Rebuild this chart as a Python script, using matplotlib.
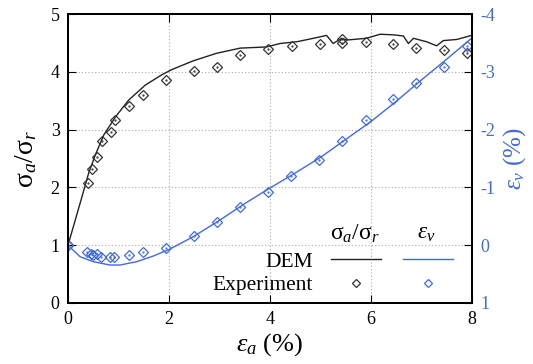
import matplotlib
matplotlib.use('Agg')
import matplotlib.pyplot as plt
from matplotlib.lines import Line2D

# ─── Data ────────────────────────────────────────────────────────────────────
# DEM stress ratio curve
DEM_X      = [0.0, 0.145, 0.277, 0.41, 0.54, 0.71, 0.94, 1.2, 1.53, 1.86, 2.06,
              2.48, 2.94, 3.41, 3.93, 4.2, 4.53, 4.86, 5.12, 5.25, 5.42, 5.52,
              5.91, 6.18, 6.44, 6.64, 6.74, 6.84, 7.1, 7.3, 7.43, 7.7, 7.99]
DEM_RATIO  = [1.0, 1.44, 1.84, 2.25, 2.56, 2.91, 3.22, 3.51, 3.77, 3.95, 4.04,
              4.19, 4.32, 4.41, 4.43, 4.49, 4.52, 4.58, 4.63, 4.49, 4.58, 4.55,
              4.58, 4.65, 4.64, 4.62, 4.49, 4.58, 4.52, 4.45, 4.54, 4.56, 4.63]

# DEM volumetric strain curve
DEMV_X     = [0.0, 0.24, 0.5, 0.83, 1.03, 1.36, 1.69, 2.02, 2.48, 3.0, 3.5,
              4.0, 4.5, 5.0, 5.5, 6.0, 6.5, 7.0, 7.5, 7.99]
DEM_EV     = [0.0, 0.2, 0.285, 0.343, 0.343, 0.285, 0.187, 0.066, -0.147,
              -0.43, -0.72, -0.99, -1.25, -1.52, -1.83, -2.14, -2.49, -2.86,
              -3.22, -3.58]

# Experiment: stress ratio
EXP_X      = [0.0, 0.40, 0.47, 0.57, 0.67, 0.85, 0.94, 1.21, 1.49, 1.94, 2.49,
              2.95, 3.41, 3.96, 4.43, 4.98, 5.43, 5.43, 5.90, 6.44, 6.89, 7.45,
              7.91]
EXP_RATIO  = [1.0, 2.08, 2.31, 2.52, 2.80, 2.96, 3.16, 3.40, 3.60, 3.85, 4.01,
              4.08, 4.29, 4.40, 4.45, 4.48, 4.57, 4.50, 4.52, 4.48, 4.41, 4.37,
              4.32]

# Experiment: volumetric strain
EXPV_X     = [0.0, 0.38, 0.45, 0.50, 0.57, 0.66, 0.83, 0.91, 1.21, 1.49, 1.94,
              2.49, 2.95, 3.41, 3.96, 4.42, 4.97, 5.43, 5.90, 6.44, 6.90, 7.45,
              7.91]
EXP_EV     = [0.0, 0.118, 0.152, 0.170, 0.152, 0.209, 0.199, 0.199, 0.164,
              0.118, 0.043, -0.154, -0.396, -0.666, -0.915, -1.197, -1.479,
              -1.798, -2.161, -2.524, -2.806, -3.088, -3.446]

X_TICKS  = [0, 2, 4, 6, 8]
Y_TICKS  = [0, 1, 2, 3, 4, 5]
EV_TICKS = [1, 0, -1, -2, -3, -4]

BLUE = '#4169e1'

plt.rcParams.update({
    "font.family":       "Liberation Serif",
    "mathtext.fontset":  "custom",
    "mathtext.rm":       "Liberation Serif",
    "mathtext.it":       "Liberation Serif:italic",
    "axes.unicode_minus": False,
    "font.size":         12.5,
    "xtick.direction":   "in",
    "ytick.direction":   "in",
    "xtick.major.size":  6,
    "ytick.major.size":  6,
    "axes.linewidth":    1.4,
})

fig, ax = plt.subplots(figsize=(5.33, 3.64), dpi=100)
fig.subplots_adjust(left=0.1276, right=0.8856, top=0.9615, bottom=0.1676)
ax2 = ax.twinx()

# stress ratio (left axis)
ax.plot(DEM_X, DEM_RATIO, color='#222222', lw=1.0)
ax.plot(EXP_X, EXP_RATIO, ls='none', marker='D', ms=5.5, mfc='none',
        mec='#333333', mew=0.9)
ax.plot(EXP_X, EXP_RATIO, ls='none', marker='.', ms=1.2, color='#333333')

# volumetric strain (right axis, inverted)
ax2.plot(DEMV_X, DEM_EV, color=BLUE, lw=1.0)
ax2.plot(EXPV_X, EXP_EV, ls='none', marker='D', ms=5.5, mfc='none',
         mec=BLUE, mew=0.9)
ax2.plot(EXPV_X, EXP_EV, ls='none', marker='.', ms=1.2, color=BLUE)

ax.set_xlim(0, 8)
ax.set_ylim(0, 5)
ax2.set_ylim(1, -4)
ax.set_xticks(X_TICKS)
ax.set_yticks(Y_TICKS)
ax2.set_yticks(EV_TICKS)
ax.tick_params(top=True, labelsize=13, pad=6)
ax2.tick_params(labelsize=13, labelcolor=BLUE, pad=6)

ax.grid(True, color='#aaaaaa', linestyle=(0, (1, 2)), linewidth=0.8)

ax.set_xlabel(r"$\varepsilon_a$ (%)", fontsize=19, labelpad=2)
ax.set_ylabel(r"σ$_a$/σ$_r$", fontsize=20, labelpad=8)
ax2.set_ylabel(r"$\varepsilon_v$ (%)", fontsize=18, color=BLUE, labelpad=4)

# table-style legend
handles = [Line2D([], [], color='#222222', lw=1.0),
           Line2D([], [], ls='none', marker='D', ms=4, mfc='none',
                  mec='#333333', mew=0.9),
           Line2D([], [], color=BLUE, lw=1.0),
           Line2D([], [], ls='none', marker='D', ms=4, mfc='none',
                  mec=BLUE, mew=0.9)]
labels = ['DEM', 'Experiment', '', '']
leg = ax2.legend(handles, labels, ncol=2, markerfirst=False, frameon=False,
                 fontsize=15.5, handlelength=2.3, handletextpad=0.85,
                 columnspacing=0.2, labelspacing=0.15,
                 loc='lower right', bbox_to_anchor=(1.0, -0.04))

ax.text(0.71, 0.24, r"σ$_a$/σ$_r$", transform=ax.transAxes,
        fontsize=17, ha='center', va='center')
ax.text(0.886, 0.24, r"$\varepsilon_v$", transform=ax.transAxes,
        fontsize=17, ha='center', va='center')

plt.savefig("out.png", dpi=100)
